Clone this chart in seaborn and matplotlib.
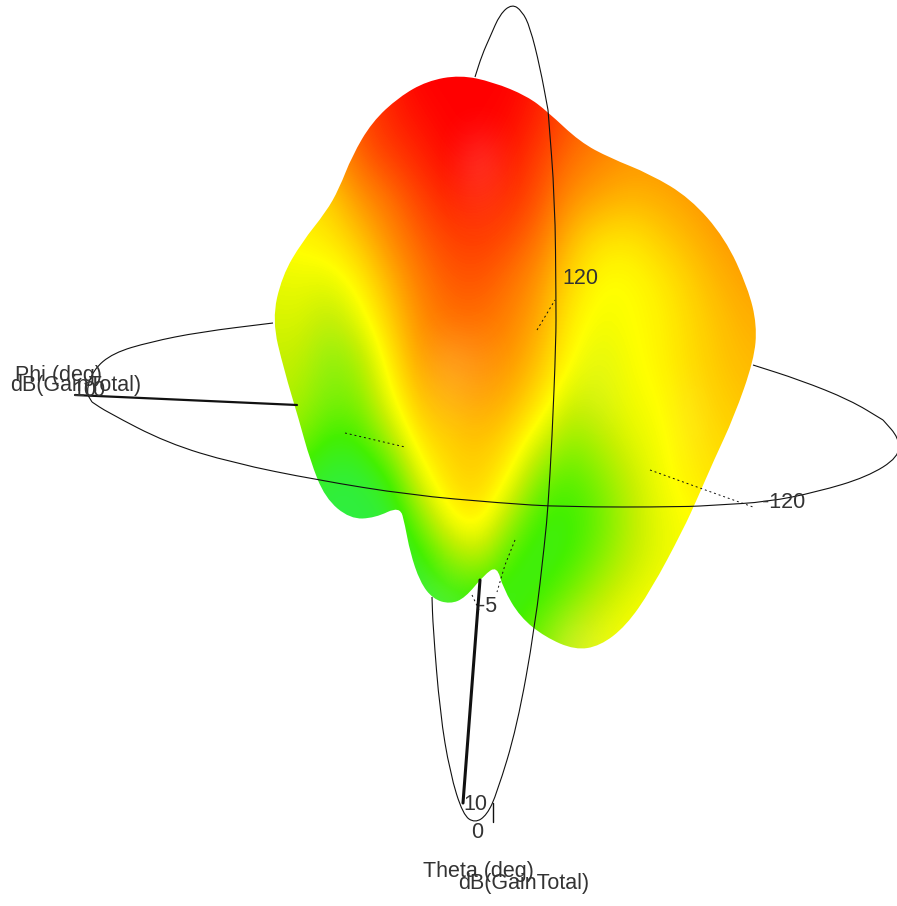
import numpy as np
import matplotlib.pyplot as plt
import seaborn as sns
from matplotlib.colors import LinearSegmentedColormap
from matplotlib.path import Path
from matplotlib.patches import PathPatch

# picture pixels: x to the right, y downwards
outline_x = [460, 493, 527, 548, 580, 610, 650, 690, 725, 748, 757, 754, 734, 714, 698, 683, 651, 626,
             600, 575, 545, 520, 503, 497, 484, 465, 450, 433, 420, 410, 405, 400, 375, 350, 325, 310,
             299, 284, 272, 282, 302, 326, 339, 352, 372, 399, 427]
outline_y = [75, 82, 96, 112, 142, 158, 174, 198, 238, 288, 325, 360, 417, 460, 497, 530, 590, 626,
             646, 650, 637, 617, 588, 566, 575, 598, 604, 599, 582, 552, 525, 506, 518, 519, 498, 460,
             420, 370, 320, 276, 242, 212, 189, 156, 122, 97, 81]

gain_x = [270, 300, 330, 360, 390, 420, 450, 480, 510, 540, 570, 600, 630, 660, 690, 720, 750]
gain_y = [80, 120, 160, 200, 240, 280, 320, 360, 400, 440, 480, 520, 560, 600, 640]
gain = [
    [8.0, 8.0, 8.0, 8.5, 9.5, 10.0, 10.0, 10.0, 10.0, 9.5, 8.5, 8.0, 8.0, 8.0, 8.0, 8.0, 8.0],
    [7.0, 7.0, 7.5, 8.7, 9.3, 9.7, 10.0, 10.0, 9.8, 9.3, 8.5, 8.0, 7.5, 7.0, 7.0, 7.0, 7.0],
    [6.0, 6.0, 7.0, 8.2, 8.8, 9.3, 9.8, 9.9, 9.5, 8.8, 8.0, 7.5, 7.2, 7.2, 7.3, 7.4, 7.5],
    [5.5, 5.5, 6.0, 7.2, 8.0, 8.8, 9.3, 9.4, 9.1, 8.5, 7.3, 6.8, 6.5, 6.7, 7.0, 7.3, 7.5],
    [5.0, 5.2, 5.4, 6.2, 7.4, 8.3, 8.8, 8.9, 8.6, 7.9, 6.4, 5.6, 5.5, 6.0, 6.5, 7.0, 7.2],
    [4.6, 4.7, 4.6, 5.3, 6.6, 7.8, 8.4, 8.5, 8.0, 7.2, 5.8, 5.0, 5.0, 5.4, 6.0, 6.6, 7.0],
    [4.3, 4.4, 3.8, 4.6, 6.0, 7.4, 8.0, 8.0, 7.6, 6.8, 5.3, 4.8, 5.0, 5.2, 5.8, 6.3, 6.7],
    [4.0, 4.0, 3.0, 3.6, 5.4, 7.0, 7.3, 7.5, 7.2, 6.3, 5.0, 4.5, 4.9, 5.2, 5.7, 6.2, 6.5],
    [3.8, 3.6, 2.7, 3.0, 4.8, 6.3, 6.7, 7.0, 6.6, 5.6, 4.2, 4.3, 4.8, 5.0, 5.6, 6.0, 6.3],
    [3.2, 3.0, 1.8, 2.0, 3.6, 5.6, 6.0, 6.3, 5.8, 4.4, 3.2, 3.8, 4.5, 4.9, 5.4, 5.8, 6.0],
    [2.0, 1.5, 0.8, 0.8, 1.8, 4.6, 5.8, 6.0, 5.0, 2.8, 2.2, 3.0, 4.0, 4.8, 5.3, 5.6, 5.8],
    [1.0, 0.8, 0.8, 0.8, 0.8, 3.0, 5.0, 5.5, 3.5, 1.8, 1.8, 2.6, 3.8, 4.6, 5.0, 5.2, 5.4],
    [1.0, 0.8, 0.8, 0.8, 0.8, 1.5, 3.2, 3.8, 2.0, 1.5, 2.0, 3.0, 4.0, 4.6, 5.0, 5.0, 5.0],
    [1.0, 0.8, 0.8, 0.8, 0.8, 1.0, 1.5, 1.5, 1.5, 2.0, 3.0, 4.0, 4.6, 5.0, 5.0, 5.0, 5.0],
    [1.0, 0.8, 0.8, 0.8, 0.8, 1.0, 1.5, 1.5, 2.0, 3.0, 4.0, 4.6, 5.0, 5.0, 5.0, 5.0, 5.0],
]
# light reflections on the lobes
sheen = [
    [0, 0, 0, 0, 0, 0, 0, 0, 0, 0, 0, 0, 0, 0, 0, 0, 0],
    [0, 0, 0, 0, 0, 0, 0, 0, 0, 0, 0, 0, 0, 0, 0, 0, 0],
    [0, 0, 0, 0, 0, 0, 0, .22, 0, 0, 0, 0, 0, 0, 0, 0, 0],
    [0, 0, 0, 0, 0, 0, 0, .08, 0, 0, 0, 0, 0, 0, 0, 0, 0],
    [0, 0, 0, 0, 0, 0, 0, 0, 0, 0, 0, 0, 0, 0, 0, 0, 0],
    [0, 0, 0, 0, 0, 0, 0, 0, 0, 0, 0, 0, 0, 0, 0, 0, 0],
    [0, 0, .05, 0, 0, 0, 0, 0, 0, 0, 0, 0, 0, 0, 0, 0, 0],
    [0, 0, .08, 0, 0, 0, .15, .08, 0, 0, 0, .08, 0, 0, 0, 0, 0],
    [0, 0, .05, 0, 0, 0, .1, .05, 0, 0, 0, .1, 0, 0, .08, 0, 0],
    [0, 0, 0, 0, 0, 0, 0, 0, 0, 0, 0, 0, 0, 0, .08, 0, 0],
    [0, 0, 0, 0, 0, 0, 0, 0, 0, 0, 0, 0, 0, 0, 0, 0, 0],
    [0, 0, 0, 0, 0, 0, 0, 0, 0, 0, 0, 0, 0, 0, 0, 0, 0],
    [0, 0, 0, 0, 0, 0, 0, 0, 0, 0, 0, 0, 0, 0, 0, 0, 0],
    [0, 0, 0, 0, 0, .1, .15, 0, 0, 0, 0, 0, 0, 0, 0, 0, 0],
    [0, 0, 0, 0, 0, 0, 0, 0, 0, 0, .15, .1, 0, 0, 0, 0, 0],
]

# phi circle, pieces not hidden by the solid
phi_back_left_x = [273, 200, 150, 113, 93, 86, 92]
phi_back_left_y = [323, 332, 342, 353, 370, 392, 402]
phi_front_x = [92, 107, 167, 233, 317, 410, 500, 563, 683, 717, 767, 817, 867, 899, 899, 883]
phi_front_y = [402, 412, 443, 463, 480, 495, 503, 507, 507, 505, 502, 492, 477, 457, 438, 420]
phi_back_right_x = [883, 850, 800, 753]
phi_back_right_y = [420, 400, 380, 365]
# theta circle
theta_top_x = [475, 482, 490, 500, 512, 522, 530, 540, 548]
theta_top_y = [77, 55, 37, 14, 4, 11, 27, 67, 110]
theta_front_x = [548, 555, 556, 556, 552, 548, 545, 535, 517, 497, 487, 475, 463, 450, 440, 433, 432]
theta_front_y = [110, 200, 300, 340, 440, 507, 540, 627, 727, 793, 815, 823, 815, 773, 713, 627, 597]
# axes
phi_axis_x = [75, 297]
phi_axis_y = [395, 405]
theta_axis_x = [480, 463]
theta_axis_y = [580, 803]
tick_x = [493, 493]
tick_y = [803, 822]
# short dotted pieces
dot1_x = [345, 405]
dot1_y = [433, 447]
dot2_x = [537, 555]
dot2_y = [330, 300]
dot3_x = [650, 697, 753]
dot3_y = [470, 487, 507]
dot4_x = [515, 505, 497]
dot4_y = [540, 565, 592]
dot5_x = [472, 480]
dot5_y = [595, 612]

labels = ['Phi (deg)', 'dB(GainTotal)', '10', '0', '120', '-120', '-5', '10', '0',
          'Theta (deg)', 'dB(GainTotal)']
label_x = [15, 10, 72, 92, 562, 762, 478, 463, 471, 423, 458]
label_y = [376, 385, 391, 391, 279, 503, 607, 804, 833, 871, 883]

sns.set_theme(style='white')
plt.rcParams['font.family'] = ['Liberation Sans', 'DejaVu Sans']

fig, ax = plt.subplots(figsize=(8.97, 9.06), dpi=100)
fig.subplots_adjust(0, 0, 1, 1)

gain_cmap = LinearSegmentedColormap.from_list('gain', [
    (0.0, '#22ee66'), (0.2, '#44f000'), (0.4, '#c4f000'), (0.5, '#ffff00'), (0.6, '#ffd000'),
    (0.7, '#ffa000'), (0.8, '#ff7000'), (0.9, '#ff3800'), (1.0, '#ff0000')])
sheen_cmap = LinearSegmentedColormap.from_list('sheen', [(1, 1, 1, 0), (1, 1, 1, 1)])

step_x = gain_x[1] - gain_x[0]
step_y = gain_y[1] - gain_y[0]
extent = [gain_x[0] - step_x / 2, gain_x[-1] + step_x / 2, gain_y[-1] + step_y / 2, gain_y[0] - step_y / 2]
field = ax.imshow(gain, cmap=gain_cmap, vmin=0, vmax=10, extent=extent, interpolation='bicubic', aspect='auto', zorder=1)
shine = ax.imshow(sheen, cmap=sheen_cmap, vmin=0, vmax=1, extent=extent, interpolation='bicubic', aspect='auto', zorder=2)


def curve_path(x, y, closed=False):
    # read points act as curve controls, so the result has no corners
    pts = np.column_stack([x, y]).astype(float)
    mids = (pts[:-1] + pts[1:]) / 2
    if closed:
        mids = (pts + np.roll(pts, -1, axis=0)) / 2
        verts = [mids[-1]]
        codes = [Path.MOVETO]
        inner = pts
    else:
        verts = [pts[0], mids[0]]
        codes = [Path.MOVETO, Path.LINETO]
        inner = pts[1:-1]
        mids = mids[1:]
    for p, m in zip(inner, mids):
        verts += [p, m]
        codes += [Path.CURVE3, Path.CURVE3]
    if not closed:
        verts.append(pts[-1])
        codes.append(Path.LINETO)
    return Path(verts, codes)


clip = PathPatch(curve_path(outline_x, outline_y, closed=True), transform=ax.transData, fc='none', ec='none')
ax.add_patch(clip)
field.set_clip_path(clip)
shine.set_clip_path(clip)

for cx, cy in [(phi_back_left_x, phi_back_left_y), (phi_front_x, phi_front_y), (phi_back_right_x, phi_back_right_y),
               (theta_top_x, theta_top_y), (theta_front_x, theta_front_y)]:
    ax.add_patch(PathPatch(curve_path(cx, cy), fc='none', ec='#111111', lw=0.8, zorder=3))


def draw(x, y, lw=0.9, ls='-'):
    sns.lineplot(x=x, y=y, sort=False, estimator=None, color='#111111', linewidth=lw, linestyle=ls, ax=ax, zorder=3)


draw(phi_axis_x, phi_axis_y, lw=1.6)
draw(theta_axis_x, theta_axis_y, lw=2.2)
draw(tick_x, tick_y, lw=1)
for dx, dy in [(dot1_x, dot1_y), (dot2_x, dot2_y), (dot3_x, dot3_y), (dot4_x, dot4_y), (dot5_x, dot5_y)]:
    draw(dx, dy, lw=0.7, ls=(0, (2, 3)))

for s, tx, ty in zip(labels, label_x, label_y):
    ax.text(tx, ty, s, fontsize=15.5, color='#333333', ha='left', va='center', zorder=4)

ax.set_xlim(0, 897)
ax.set_ylim(906, 0)
ax.axis('off')
fig.savefig('out.png', dpi=100)
